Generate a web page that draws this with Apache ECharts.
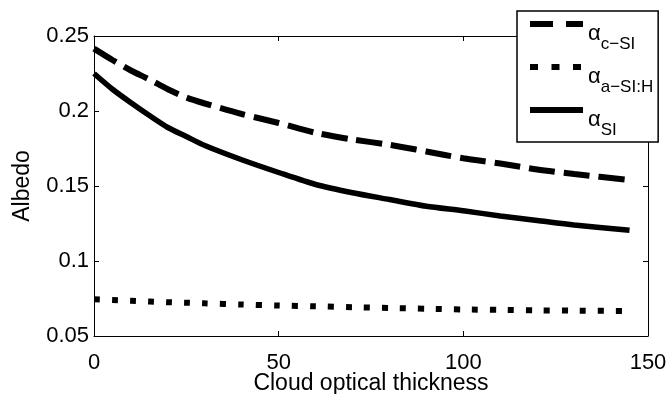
<!DOCTYPE html>
<html>
<head>
<meta charset="utf-8">
<script src="https://cdn.jsdelivr.net/npm/echarts@6/dist/echarts.min.js"></script>
<style>
html,body{margin:0;padding:0;background:#fff;}
#chart{width:669px;height:394px;}
</style>
</head>
<body>
<div id="chart"></div>
<script>
// Data
const thickness = [0, 5, 10, 15, 20, 25, 30, 40, 50, 60, 70, 80, 90, 100, 110, 120, 130, 145];
const albedoCSi = [0.2416, 0.234, 0.227, 0.221, 0.2145, 0.209, 0.205, 0.198, 0.192, 0.1855, 0.181, 0.1775, 0.173, 0.1685, 0.165, 0.161, 0.158, 0.154];
const albedoASiH = [0.0745, 0.074, 0.0735, 0.073, 0.0725, 0.0722, 0.0718, 0.071, 0.0703, 0.0698, 0.0692, 0.0687, 0.0682, 0.0677, 0.0674, 0.0671, 0.0669, 0.0667];
const albedoSi = [0.225, 0.2145, 0.2055, 0.197, 0.189, 0.183, 0.177, 0.1675, 0.159, 0.151, 0.1455, 0.141, 0.1365, 0.1335, 0.130, 0.127, 0.124, 0.1205];
const seriesNames = ['c-Si', 'a-Si:H', 'Si'];
const legendSubs = ['c\u2212SI', 'a\u2212SI:H', 'SI'];
const xTicks = [0, 50, 100, 150];
const yTicks = [0.05, 0.1, 0.15, 0.2, 0.25];

const FONT = '"Liberation Sans", Arial, Helvetica, sans-serif';
const pairs = (xs, ys) => xs.map((x, i) => [x, ys[i]]);

const chart = echarts.init(document.getElementById('chart'), null, {renderer: 'canvas'});

const tickCommon = {show: true, inside: true, length: 5, lineStyle: {color: '#000', width: 1}};
const axisLineCommon = {show: true, onZero: false, lineStyle: {color: '#000', width: 1}};

const option = {
  animation: false,
  backgroundColor: '#fff',
  textStyle: {fontFamily: FONT, color: '#000'},
  grid: {left: 94, right: 21, top: 36, bottom: 58, containLabel: false, outerBoundsMode: 'none'},
  xAxis: [{
    type: 'value', min: xTicks[0], max: xTicks[xTicks.length - 1], interval: 50,
    position: 'bottom',
    axisLine: axisLineCommon, axisTick: tickCommon, splitLine: {show: false},
    axisLabel: {fontSize: 22, color: '#000', margin: 16, fontFamily: FONT},
    name: 'Cloud optical thickness', nameLocation: 'middle', nameGap: 36, nameMoveOverlap: false,
    nameTextStyle: {fontSize: 23, color: '#000', fontFamily: FONT}
  }, {
    type: 'value', min: xTicks[0], max: xTicks[xTicks.length - 1], interval: 50,
    position: 'top',
    axisLine: axisLineCommon, axisTick: tickCommon, splitLine: {show: false},
    axisLabel: {show: false}
  }],
  yAxis: [{
    type: 'value', min: yTicks[0], max: yTicks[yTicks.length - 1], interval: 0.05,
    position: 'left',
    axisLine: axisLineCommon, axisTick: tickCommon, splitLine: {show: false},
    axisLabel: {fontSize: 22, color: '#000', margin: 5, fontFamily: FONT},
    name: 'Albedo', nameLocation: 'middle', nameGap: 60, nameRotate: 90, nameMoveOverlap: false,
    nameTextStyle: {fontSize: 23, color: '#000', fontFamily: FONT}
  }, {
    type: 'value', min: yTicks[0], max: yTicks[yTicks.length - 1], interval: 0.05,
    position: 'right',
    axisLine: axisLineCommon, axisTick: tickCommon, splitLine: {show: false},
    axisLabel: {show: false}
  }],
  legend: {
    orient: 'vertical', left: 517, top: 11,
    backgroundColor: '#fff', borderColor: '#000', borderWidth: 1.5, borderRadius: 0,
    padding: [3, 5, 3, 10],
    itemWidth: 53, itemHeight: 14, itemGap: 4,
    lineStyle: {width: 6},
    itemStyle: {opacity: 0},
    data: [
      {name: seriesNames[0], lineStyle: {width: 6, type: [23, 13]}, itemStyle: {opacity: 0}},
      {name: seriesNames[1], lineStyle: {width: 6, type: [8, 13.5]}, itemStyle: {opacity: 0}},
      {name: seriesNames[2], lineStyle: {width: 6, type: 'solid'}, itemStyle: {opacity: 0}}
    ],
    formatter: function (name) {
      const i = seriesNames.indexOf(name);
      return '{a|\u03b1}{s|' + legendSubs[i] + '}';
    },
    textStyle: {
      fontFamily: FONT, color: '#000',
      rich: {
        a: {fontSize: 22, lineHeight: 20, padding: [9, 0, 0, 0], verticalAlign: 'top', fontFamily: FONT, color: '#000'},
        s: {fontSize: 17, lineHeight: 16, padding: [22, 0, 0, 0], verticalAlign: 'top', fontFamily: FONT, color: '#000'}
      }
    }
  },
  series: [{
    name: seriesNames[0], type: 'line', data: pairs(thickness, albedoCSi),
    symbol: 'none', smooth: 0.25,
    lineStyle: {color: '#000', width: 6, type: [26, 9]}, itemStyle: {color: '#000'}
  }, {
    name: seriesNames[1], type: 'line', data: pairs(thickness, albedoASiH),
    symbol: 'none', smooth: 0.25,
    lineStyle: {color: '#000', width: 6, type: [6, 12]}, itemStyle: {color: '#000'}
  }, {
    name: seriesNames[2], type: 'line', data: pairs(thickness, albedoSi),
    symbol: 'none', smooth: 0.25,
    lineStyle: {color: '#000', width: 5.5, type: 'solid'}, itemStyle: {color: '#000'}
  }]
};
chart.setOption(option);
</script>
</body>
</html>
